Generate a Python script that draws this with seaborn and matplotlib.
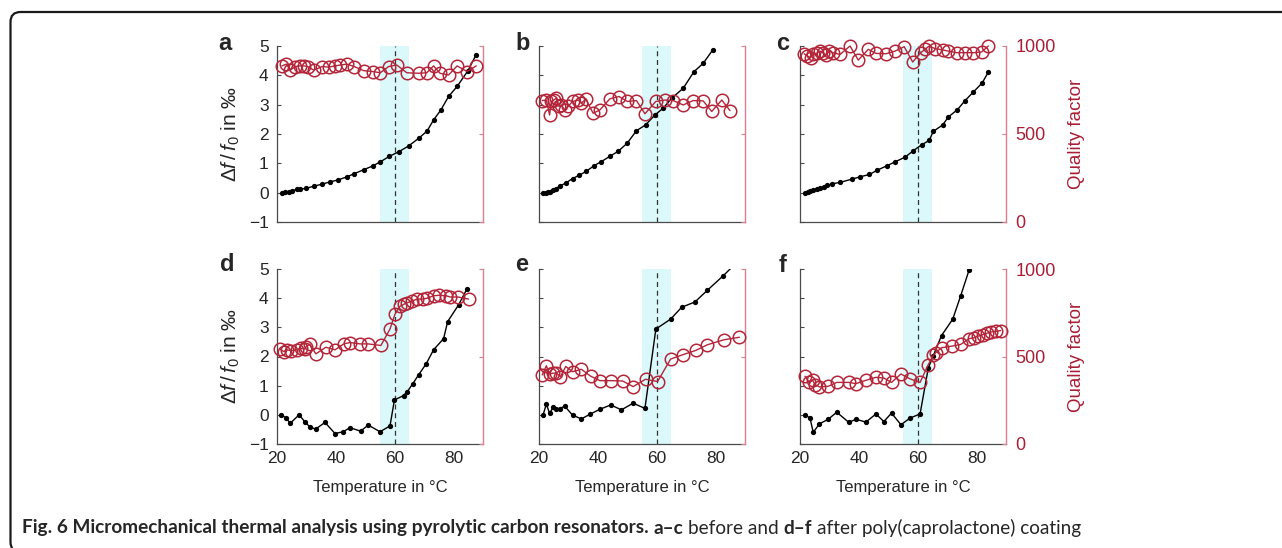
import numpy as np
import pandas as pd
import matplotlib
matplotlib.use("Agg")
import matplotlib.pyplot as plt
import seaborn as sns
from matplotlib.patches import FancyBboxPatch
from matplotlib.ticker import MultipleLocator
from matplotlib.transforms import IdentityTransform

# ---------------- data ----------------
# frequency shift (per mille) vs temperature, and quality factor vs temperature
a_temp = [21.7, 22.8, 24.0, 25.1, 26.8, 27.9, 30.0, 32.5, 35.3, 38.1, 40.6, 43.8, 46.3, 49.4,
          52.5, 55.1, 58.2, 61.3, 64.7, 68.1, 71.0, 73.2, 75.7, 78.3, 81.2, 84.9, 87.7]
a_shift = [0.0, 0.02, 0.03, 0.07, 0.11, 0.12, 0.15, 0.22, 0.29, 0.37, 0.43, 0.54, 0.65, 0.78,
           0.91, 1.05, 1.24, 1.39, 1.59, 1.85, 2.10, 2.48, 2.82, 3.28, 3.62, 4.16, 4.71]
a_qtemp = [21.7, 23.2, 24.5, 26.2, 27.7, 29.3, 30.4, 32.5, 35.3, 37.5, 39.8, 41.5, 43.8, 46.3,
           49.4, 52.5, 55.1, 57.9, 60.7, 64.1, 68.1, 70.9, 73.2, 75.4, 78.3, 81.2, 84.6, 87.7]
a_q = [887, 897, 863, 883, 887, 887, 883, 863, 883, 880, 887, 892, 897, 883,
       860, 855, 848, 883, 892, 848, 845, 848, 887, 845, 835, 887, 855, 887]

b_temp = [21.4, 22.3, 23.1, 23.9, 24.8, 25.7, 27.0, 29.1, 31.4, 33.6, 36.1, 38.7, 41.2, 44.1,
          46.9, 50.0, 53.1, 56.2, 59.4, 62.2, 65.1, 69.0, 72.7, 75.8, 79.0]
b_shift = [0.0, 0.0, 0.01, 0.02, 0.08, 0.14, 0.22, 0.33, 0.48, 0.59, 0.73, 0.92, 1.06, 1.24,
           1.41, 1.69, 2.11, 2.31, 2.65, 2.88, 3.22, 3.56, 4.13, 4.41, 4.86]
b_qtemp = [21.1, 22.5, 23.6, 24.2, 25.0, 25.9, 26.8, 27.6, 28.7, 29.9, 31.4, 33.3, 34.4, 35.9,
           38.4, 40.7, 44.1, 47.2, 50.0, 53.1, 56.0, 59.7, 62.8, 65.6, 69.0, 72.4, 75.8, 78.7,
           82.1, 84.9]
b_q = [690, 693, 608, 685, 693, 703, 657, 665, 637, 657, 685, 693, 675, 698,
       618, 637, 700, 713, 685, 690, 615, 685, 693, 690, 665, 690, 688, 628,
       693, 633]

c_temp = [21.7, 22.6, 23.4, 24.5, 25.7, 26.8, 28.2, 29.3, 30.8, 33.6, 37.6, 40.4, 43.6, 46.3,
          49.4, 52.3, 55.7, 58.5, 61.3, 63.9, 65.3, 68.5, 70.4, 73.5, 76.1, 78.9, 81.9, 84.0]
c_shift = [0.0, 0.02, 0.05, 0.09, 0.12, 0.15, 0.20, 0.25, 0.30, 0.35, 0.46, 0.54, 0.62, 0.77,
           0.91, 1.05, 1.21, 1.43, 1.63, 1.78, 2.09, 2.31, 2.58, 2.83, 3.14, 3.43, 3.74, 4.11]
c_qtemp = [21.4, 22.5, 23.6, 24.3, 25.7, 26.8, 27.7, 28.8, 30.0, 31.1, 33.6, 37.0, 39.8, 43.2,
           45.8, 49.2, 52.3, 55.4, 58.3, 61.0, 62.5, 63.9, 65.9, 68.7, 70.4, 73.2, 76.1, 78.9,
           81.7, 84.0]
c_q = [956, 943, 933, 952, 958, 971, 962, 947, 971, 962, 952, 1000, 920, 981,
       958, 956, 971, 996, 909, 962, 981, 1000, 985, 977, 971, 962, 962, 962,
       966, 1000]

d_temp = [21.5, 23.2, 24.5, 27.5, 29.4, 31.1, 33.1, 36.3, 39.7, 42.5, 44.8, 48.4, 51.0, 55.0,
          58.4, 59.9, 63.0, 64.3, 66.1, 68.1, 70.7, 73.2, 76.6, 78.0, 81.7, 84.5]
d_shift = [0.0, -0.12, -0.29, 0.0, -0.23, -0.41, -0.49, -0.26, -0.64, -0.58, -0.44, -0.56, -0.35,
           -0.58, -0.38, 0.51, 0.66, 0.80, 1.06, 1.37, 1.75, 2.23, 2.61, 3.20, 3.77, 4.31]
d_qtemp = [21.1, 22.3, 23.4, 24.9, 26.8, 28.0, 29.4, 30.0, 31.1, 33.2, 36.6, 39.7, 42.7, 44.8,
           48.2, 51.0, 55.3, 58.4, 60.1, 61.8, 63.3, 64.3, 65.8, 67.5, 69.5, 70.9, 73.2, 75.2,
           77.5, 78.9, 81.5, 85.1]
d_q = [542, 528, 538, 533, 538, 548, 542, 557, 570, 515, 553, 538, 572, 580,
       572, 572, 563, 657, 742, 787, 800, 808, 815, 828, 828, 833, 847, 850,
       847, 840, 840, 828]

e_temp = [21.4, 22.5, 23.6, 24.8, 25.9, 27.0, 28.7, 31.4, 34.4, 37.3, 40.7, 44.4, 48.0, 52.0,
          56.0, 59.7, 64.7, 68.5, 73.0, 77.2, 82.4, 87.5]
e_shift = [0.0, 0.37, 0.05, 0.26, 0.19, 0.21, 0.30, -0.01, -0.14, 0.02, 0.19, 0.34, 0.17, 0.40,
           0.22, 2.94, 3.28, 3.69, 3.87, 4.27, 4.75, 5.25]
e_qtemp = [21.1, 22.5, 23.6, 24.8, 25.9, 27.3, 29.1, 31.4, 34.4, 37.5, 40.7, 44.4, 48.4, 52.0,
           56.2, 60.3, 64.7, 68.8, 73.3, 77.2, 82.7, 88.1]
e_q = [395, 447, 400, 405, 405, 385, 443, 413, 427, 388, 362, 362, 360, 328,
       370, 357, 485, 510, 535, 567, 595, 610]

f_temp = [21.7, 23.4, 24.5, 26.6, 29.6, 32.5, 36.6, 39.0, 42.4, 45.8, 48.5, 51.1, 54.3, 57.4,
          60.8, 63.6, 65.3, 68.1, 71.9, 74.6, 77.5]
f_shift = [0.0, -0.11, -0.60, -0.31, -0.15, 0.09, -0.26, -0.15, -0.25, 0.03, -0.23, 0.06, -0.34,
           -0.11, 0.03, 1.61, 2.03, 2.72, 3.28, 4.08, 4.98]
f_qtemp = [21.7, 23.2, 24.3, 25.1, 26.6, 29.6, 32.5, 36.6, 39.0, 42.4, 45.8, 48.5, 51.1, 54.3,
           57.4, 60.8, 63.6, 65.3, 66.1, 68.1, 71.5, 74.6, 77.5, 79.1, 80.6, 82.1, 83.4, 84.9,
           86.6, 88.2]
f_q = [387, 352, 364, 339, 326, 330, 352, 352, 345, 364, 381, 377, 352, 400,
       372, 352, 454, 506, 521, 550, 559, 569, 602, 607, 617, 625, 632, 640,
       644, 648]

panel_letters = ["a", "b", "c", "d", "e", "f"]
x_ticks = [20, 40, 60, 80]
shift_ticks = [-1, 0, 1, 2, 3, 4, 5]
q_ticks = [0, 500, 1000]
transition_temp = 60
transition_band = (55, 65)
x_label = "Temperature in °C"
left_label = r"$\Delta f\,/\,f_0$ in ‰"
right_label = "Quality factor"
caption_pieces = [
    ("Fig. 6 Micromechanical thermal analysis using pyrolytic carbon resonators.", "bold"),
    ("a–c", "bold"),
    ("before and", "normal"),
    ("d–f", "bold"),
    ("after poly(caprolactone) coating", "normal"),
]

panels = [
    (a_temp, a_shift, a_qtemp, a_q),
    (b_temp, b_shift, b_qtemp, b_q),
    (c_temp, c_shift, c_qtemp, c_q),
    (d_temp, d_shift, d_qtemp, d_q),
    (e_temp, e_shift, e_qtemp, e_q),
    (f_temp, f_shift, f_qtemp, f_q),
]

# ---------------- style ----------------
sns.set_style("white")
plt.rcParams["font.family"] = ["Liberation Sans", "DejaVu Sans"]
plt.rcParams["mathtext.fontset"] = "custom"
plt.rcParams["mathtext.rm"] = "Liberation Sans"
plt.rcParams["mathtext.it"] = "Liberation Sans:italic"
plt.rcParams["mathtext.bf"] = "Liberation Sans:bold"

RED = "#b3263a"
RED_TXT = "#a81f36"
PINK = "#d97f8f"
CYAN = "#dbf8fa"
AXC = "#4a4a4a"

W, H = 1282, 548
fig = plt.figure(figsize=(W / 100, H / 100), dpi=100)


def rect(x0, x1, ytop, ybot):
    return [x0 / W, 1 - ybot / H, (x1 - x0) / W, (ybot - ytop) / H]


cols = [(277, 483), (539, 745), (800, 1006)]
rows = [(46, 222), (269, 444)]
letter_pos = [(225, 44), (523, 43), (783, 44), (227, 265), (522, 265), (783, 266)]

for i, (temp, shift, qtemp, q) in enumerate(panels):
    r, c = divmod(i, 3)
    ax = fig.add_axes(rect(cols[c][0], cols[c][1], rows[r][0], rows[r][1]))
    ax.set_facecolor("none")
    ax.axvspan(*transition_band, color=CYAN, lw=0, zorder=0)
    ax.axvline(transition_temp, color="#333333", lw=0.9, ls=(0, (4, 3)), zorder=1)
    df = pd.DataFrame({"T": temp, "s": shift})
    sns.lineplot(data=df, x="T", y="s", ax=ax, color="black", lw=1.0, marker="o",
                 markersize=3.8, markeredgewidth=0, markerfacecolor="black",
                 estimator=None, sort=False, zorder=3)
    ax.set_xlim(20, 90)
    ax.set_ylim(-1, 5)
    ax.set_xticks(x_ticks)
    ax.xaxis.set_minor_locator(MultipleLocator(2))
    ax.set_yticks(shift_ticks)
    ax.set_yticklabels(["\u22121" if v == -1 else str(v) for v in shift_ticks])
    ax.tick_params(axis="x", which="both", direction="in", length=2.5, width=0.8,
                   color=AXC, labelsize=12.5, pad=5, labelbottom=(r == 1))
    ax.tick_params(axis="y", direction="in", length=3, width=0.8, color=AXC,
                   labelsize=12.5, pad=6, labelleft=(c == 0))
    for sp in ["top", "right"]:
        ax.spines[sp].set_visible(False)
    for sp in ["left", "bottom"]:
        ax.spines[sp].set_color(AXC)
        ax.spines[sp].set_linewidth(0.9)
    ax.set_xlabel(x_label if r == 1 else "", fontsize=12, labelpad=10)
    if c == 0:
        ax.set_ylabel(left_label, fontsize=15)
        ax.yaxis.set_label_coords(-0.17, 0.5)
    else:
        ax.set_ylabel("")

    ax2 = ax.twinx()
    qd = pd.DataFrame({"T": qtemp, "q": q})
    sns.lineplot(data=qd, x="T", y="q", ax=ax2, color=RED, lw=1.0, marker="o",
                 markersize=9, markerfacecolor="none", markeredgecolor=RED,
                 markeredgewidth=1.1, estimator=None, sort=False, zorder=4,
                 clip_on=False)
    ax2.set_xlim(20, 90)
    ax2.set_ylim(0, 1000)
    ax2.set_yticks(q_ticks)
    ax2.tick_params(axis="y", direction="in", length=3, width=0.8, color=PINK,
                    labelcolor=RED_TXT, labelsize=13, pad=7, labelright=(c == 2))
    for sp in ["top", "left", "bottom"]:
        ax2.spines[sp].set_visible(False)
    ax2.spines["right"].set_color(PINK)
    ax2.spines["right"].set_linewidth(1.0)
    ax2.set_xlabel("")
    if c == 2:
        ax2.set_ylabel(right_label, fontsize=13.5, color=RED_TXT)
        ax2.yaxis.set_label_coords(1.30, 0.5)
    else:
        ax2.set_ylabel("")

    lx, ly = letter_pos[i]
    fig.text(lx / W, 1 - ly / H, panel_letters[i], fontsize=17, fontweight="bold",
             ha="center", va="center")

# ---------------- caption ----------------
renderer = fig.canvas.get_renderer()


def draw_caption(size):
    arts = []
    x = 22.0
    gap = 0.25 * size * 100 / 72
    for s, w in caption_pieces:
        t = fig.text(x / W, 1 - 528 / H, s, fontsize=size, fontweight=w,
                     family=["Lato", "DejaVu Sans"], ha="left", va="center")
        bb = t.get_window_extent(renderer)
        x = bb.x1 + gap
        arts.append(t)
    return arts, x - gap


arts, xend = draw_caption(12)
scale = (1075 - 22) / (xend - 22)
for t in arts:
    t.remove()
draw_caption(12 * scale)

# ---------------- frame ----------------
frame = FancyBboxPatch((10.5, -4), 1300, 540, boxstyle="round,pad=0,rounding_size=10",
                       transform=IdentityTransform(), fill=False, lw=1.6, ec="#1a1a1a")
fig.add_artist(frame)

fig.savefig("out.png", dpi=100)
